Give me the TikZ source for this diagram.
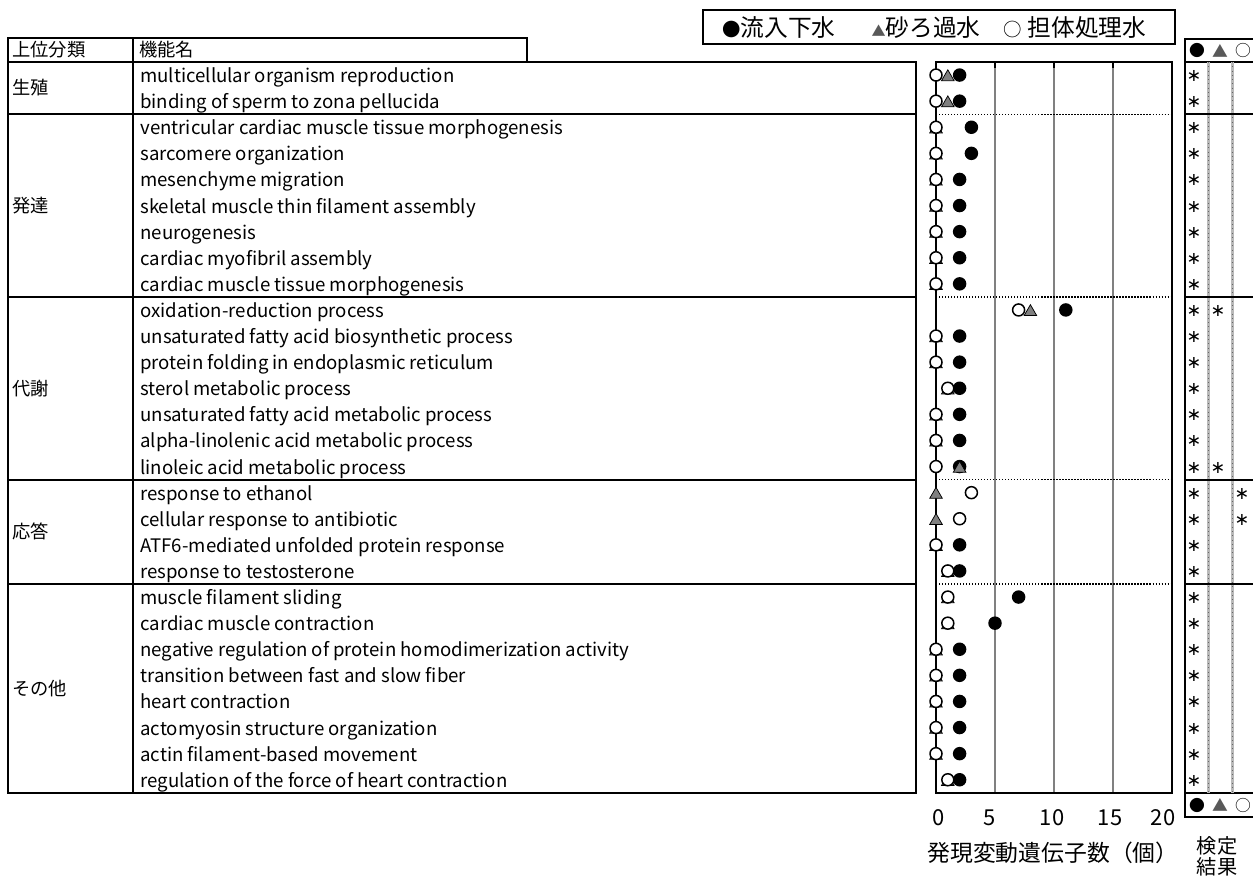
\documentclass[tikz,border=0pt]{standalone}
\usepackage{fontspec}
\setmainfont{Noto Sans CJK JP}
\newfontfamily\dejavu{DejaVu Sans}
\usetikzlibrary{shapes.geometric}
\usetikzlibrary{positioning}

\begin{document}
\begin{tikzpicture}[x=0.02cm, y=-0.02cm, every node/.style={inner sep=0pt},
    tableline/.style={line width=0.4mm},
    gridline/.style={gray, line width=0.3mm},
    sectdot/.style={densely dotted, line width=0.25mm},
    coldiv/.style={gray!55, line width=0.6mm},
    fillmark/.style={circle, fill=black, minimum size=2.7mm},
    openmark/.style={circle, draw=black, fill=white, minimum size=2.4mm, line width=0.3mm},
    trimark/.style={regular polygon, regular polygon sides=3, draw=black, fill=gray, minimum size=2.9mm, line width=0.15mm, yshift=-0.4mm},
    rowtext/.style={anchor=base west, font=\fontsize{10.6}{12}\selectfont},
    jptext/.style={anchor=west, font=\fontsize{10.4}{12}\selectfont},
    legtext/.style={font=\fontsize{13.5}{15}\selectfont},
    symtext/.style={font=\fontsize{9}{10}\selectfont},
    astmark/.style={font=\dejavu\fontsize{10}{11}\selectfont},
    axisnum/.style={font=\fontsize{12.5}{14}\selectfont}]
        % Define the page size
        \useasboundingbox (0,0) rectangle (1253,879);

        % Define the row height, the top of the table and the x scale
        \def\rh{26.1}
        \def\ytop{62}
        \def\xzero{936}
        \def\xunit{11.8}

        % Draw the legend
        \draw[tableline] (703,10) rectangle (1175,44);
        \node[legtext] (leg1) at (779,27.5) {{\fontsize{10.5}{12}\selectfont ●}流入下水};
        \node[legtext] (leg2) at (926,27.5) {{\color{gray!70!black}\fontsize{8}{9}\selectfont ▲}砂ろ過水};
        \node[legtext] (leg3) at (1075,27.5) {{\fontsize{10.5}{12}\selectfont ○} 担体処理水};

        % Draw the table head
        \draw[tableline] (8,38) rectangle (527,\ytop);
        \draw[tableline] (133,38) -- (133,\ytop);
        \node[jptext] (head1) at (12,50) {上位分類};
        \node[jptext] (head2) at (139,50) {機能名};

        % Draw the table body
        \draw[tableline] (8,\ytop) rectangle (916,{\ytop+28*\rh});
        \draw[tableline] (133,\ytop) -- (133,{\ytop+28*\rh});

        % Draw the chart grid and frame
        \foreach \v in {5,10,15}
        {
          \draw[gridline] ({\xzero+\v*\xunit},\ytop) -- ({\xzero+\v*\xunit},{\ytop+28*\rh});
          \draw[line width=0.35mm] ({\xzero+\v*\xunit},\ytop) -- ({\xzero+\v*\xunit},\ytop+6);
        }
        \draw[tableline] (\xzero,\ytop) rectangle ({\xzero+20*\xunit},{\ytop+28*\rh});

        % Draw the test result panel
        \draw[tableline] (1185,39) rectangle (1275,817);
        \draw[tableline] (1185,\ytop) -- (1275,\ytop);
        \draw[tableline] (1185,{\ytop+28*\rh}) -- (1275,{\ytop+28*\rh});
        \foreach \x in {1208,1232}
        {
          \draw[coldiv] (\x,\ytop) -- (\x,{\ytop+28*\rh});
          \draw[black!60, dotted, line width=0.15mm] (\x,\ytop) -- (\x,{\ytop+28*\rh});
        }
        \foreach \y/\s in {50.5/h, 805/b}
        {
          \node[symtext] (\s1) at (1197,\y) {●};
          \node[symtext] (\s2) at (1220,\y) {\color{gray!70!black}▲};
          \node[symtext] (\s3) at (1243,\y) {○};
        }

        % Draw the sections
        \foreach \a/\b/\lab in {0/2/生殖, 2/9/発達, 9/16/代謝, 16/20/応答, 20/28/その他}
        {
          \draw[tableline] (8,{\ytop+\a*\rh}) -- (916,{\ytop+\a*\rh});
          \node[jptext] (sec\a) at (12,{\ytop+(\a+\b)/2*\rh}) {\lab};
        }
        \foreach \a in {2,9,16,20}
        {
          \draw[sectdot] (\xzero,{\ytop+\a*\rh}) -- ({\xzero+20*\xunit},{\ytop+\a*\rh});
          \draw[tableline] (1185,{\ytop+\a*\rh}) -- (1275,{\ytop+\a*\rh});
        }

        % Draw the rows: filled, triangle and open values (-1 = none)
        \foreach \i/\f/\t/\o/\name in {
          0/2/1/0/multicellular organism reproduction,
          1/2/1/0/binding of sperm to zona pellucida,
          2/3/0/0/ventricular cardiac muscle tissue morphogenesis,
          3/3/0/0/sarcomere organization,
          4/2/0/0/mesenchyme migration,
          5/2/0/0/skeletal muscle thin filament assembly,
          6/2/0/0/neurogenesis,
          7/2/0/0/cardiac myofibril assembly,
          8/2/0/0/cardiac muscle tissue morphogenesis,
          9/11/8/7/oxidation-reduction process,
          10/2/0/0/unsaturated fatty acid biosynthetic process,
          11/2/0/0/protein folding in endoplasmic reticulum,
          12/2/1/1/sterol metabolic process,
          13/2/0/0/unsaturated fatty acid metabolic process,
          14/2/0/0/alpha-linolenic acid metabolic process,
          15/2/2/0/linoleic acid metabolic process,
          16/-1/0/3/response to ethanol,
          17/-1/0/2/cellular response to antibiotic,
          18/2/0/0/ATF6-mediated unfolded protein response,
          19/2/1/1/response to testosterone,
          20/7/1/1/muscle filament sliding,
          21/5/1/1/cardiac muscle contraction,
          22/2/0/0/negative regulation of protein homodimerization activity,
          23/2/0/0/transition between fast and slow fiber,
          24/2/0/0/heart contraction,
          25/2/0/0/actomyosin structure organization,
          26/2/0/0/actin filament-based movement,
          27/2/1/1/regulation of the force of heart contraction}
        {
          \node[rowtext] (r\i) at (140,{\ytop+(\i+0.5)*\rh+7.5}) {\name};
          \ifnum\f<0 \else
            \node[fillmark] (f\i) at ({\xzero+\f*\xunit},{\ytop+(\i+0.5)*\rh}) {};
          \fi
          \node[trimark] (t\i) at ({\xzero+\t*\xunit},{\ytop+(\i+0.5)*\rh}) {};
          \node[openmark] (o\i) at ({\xzero+\o*\xunit},{\ytop+(\i+0.5)*\rh}) {};
          \node[astmark] (s\i) at (1194,{\ytop+(\i+0.5)*\rh+1}) {∗};
        }

        % Marks in the second and third result columns
        \foreach \i/\x in {9/1218, 15/1218, 16/1242, 17/1242}
          \node[astmark] (m\i) at (\x,{\ytop+(\i+0.5)*\rh+1}) {∗};

        % Draw the axis labels
        \foreach \v/\x in {0/939, 5/990, 10/1052, 15/1110, 20/1163}
          \node[axisnum] (ax\v) at (\x,818) {\v};
        \node[font=\fontsize{13}{15}\selectfont] (xtitle) at (1053,853) {発現変動遺伝子数（個）};
        \node[font=\fontsize{11.5}{13}\selectfont] (res1) at (1217,846) {検定};
        \node[font=\fontsize{11.5}{13}\selectfont] (res2) at (1217,867) {結果};
      \end{tikzpicture}
\end{document}
